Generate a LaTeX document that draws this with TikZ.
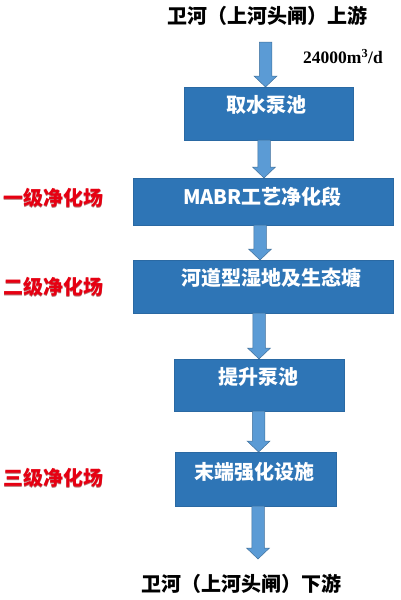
\documentclass[tikz,border=0pt]{standalone}
\usepackage{fontspec}
\usetikzlibrary{calc}
\newfontfamily\cjk{Noto Sans CJK SC}
\newfontfamily\numfont{Liberation Serif}
\definecolor{boxfill}{HTML}{2E75B6}
\definecolor{boxline}{HTML}{2A69A3}
\definecolor{arrowfill}{HTML}{5B9BD5}
\definecolor{arrowline}{HTML}{41719C}
\definecolor{stagered}{HTML}{E60012}
\definecolor{stageshadow}{HTML}{7A0000}
\newcommand{\blockarrow}[3]{%
  \filldraw[arrowstyle] let \p1=(#2), \p2=(#3) in
    ({#1pt-6.25pt},\y1) -- ({#1pt+6.25pt},\y1) -- ({#1pt+6.25pt},\y2+11pt)
    -- ({#1pt+11.5pt},\y2+11pt) -- (#1pt,\y2) -- ({#1pt-11.5pt},\y2+11pt)
    -- ({#1pt-6.25pt},\y2+11pt) -- cycle;}
\begin{document}
\begin{tikzpicture}[x=1pt,y=-1pt,
  box/.style={draw=boxline, fill=boxfill, line width=0.8pt, inner sep=0pt, outer sep=0pt},
  boxtext/.style={text=white, font=\cjk\bfseries\fontsize{20}{24}\selectfont, inner sep=0pt},
  titletext/.style={text=black, font=\cjk\bfseries\fontsize{20}{24}\selectfont, inner sep=0pt},
  stagetext/.style={text=stagered, font=\cjk\bfseries\fontsize{20}{24}\selectfont, inner sep=0pt},
  stageshade/.style={text=stageshadow, opacity=0.55, font=\cjk\bfseries\fontsize{20}{24}\selectfont, inner sep=0pt},
  flowtext/.style={text=black, font=\numfont\bfseries\fontsize{17.5}{20}\selectfont, inner sep=0pt},
  arrowstyle/.style={fill=arrowfill, draw=arrowline, line width=0.5pt, line join=miter}
]
\useasboundingbox (0,0) rectangle (400,600);
\fill[white] (0,0) rectangle (400,600);

% boxes
\node[box, minimum width=169pt, minimum height=53pt] (b1) at (268.5,113.5) {};
\node[box, minimum width=260pt, minimum height=47pt] (b2) at (263,201.5) {};
\node[box, minimum width=260pt, minimum height=53pt] (b3) at (263,286.5) {};
\node[box, minimum width=170pt, minimum height=52pt] (b4) at (259,385) {};
\node[box, minimum width=161pt, minimum height=54pt] (b5) at (255.5,479) {};

% box texts
\node[boxtext] (t1) at (266,105) {取水泵池};
\node[boxtext] (t2) at (262.5,197) {MABR工艺净化段};
\node[boxtext] (t3) at (271,278) {河道型湿地及生态塘};
\node[boxtext] (t4) at (258,377) {提升泵池};
\node[boxtext] (t5) at (254,472) {末端强化设施};

% titles
\node[titletext] (top) at (267.5,16) {卫河（上河头闸）上游};
\node[titletext] (bottom) at (241,583.5) {卫河（上河头闸）下游};
\node[flowtext, anchor=base west] (flow) at (303,63.3) {24000m\textsuperscript{3}/d};

% stage labels
\node[stageshade] (s1s) at (54,199) {一级净化场};
\node[stagetext] (s1) at (53,198) {一级净化场};
\node[stageshade] (s2s) at (54,288) {二级净化场};
\node[stagetext] (s2) at (53,287) {二级净化场};
\node[stageshade] (s3s) at (54,479) {三级净化场};
\node[stagetext] (s3) at (53,478) {三级净化场};

% arrows
\coordinate (inflow) at (265.5,42);
\coordinate (outflow) at (258,559);
\blockarrow{265.5}{inflow}{b1.north}
\blockarrow{264}{b1.south}{b2.north}
\blockarrow{260}{b2.south}{b3.north}
\blockarrow{259}{b3.south}{b4.north}
\blockarrow{258.6}{b4.south}{b5.north}
\blockarrow{258}{b5.south}{outflow}
\end{tikzpicture}
\end{document}
